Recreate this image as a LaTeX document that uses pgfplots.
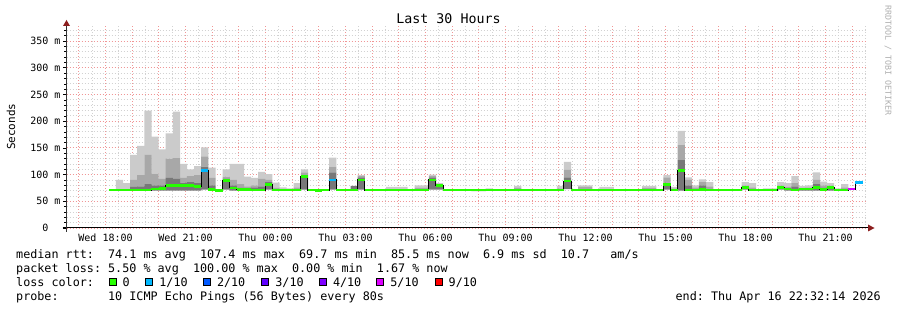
\documentclass[border=0pt]{standalone}
\usepackage{fontspec}
\setmonofont{DejaVu Sans Mono}
\usepackage{pgfplots}
\usepackage{pgfplotstable}
\pgfplotsset{compat=1.18}
\definecolor{smokeL}{RGB}{203,203,203}
\definecolor{smokeM}{RGB}{168,168,168}
\definecolor{smokeD}{RGB}{120,120,120}
\definecolor{loss0}{HTML}{26FF00}
\definecolor{loss1}{HTML}{00B8FF}
\definecolor{loss2}{HTML}{0059FF}
\definecolor{loss3}{HTML}{5E00FF}
\definecolor{loss4}{HTML}{7E00FF}
\definecolor{loss5}{HTML}{DD00FF}
\definecolor{loss9}{HTML}{FF0000}
\definecolor{gridmajor}{RGB}{240,150,150}
\definecolor{gridminor}{RGB}{210,210,210}
\definecolor{arrowred}{RGB}{140,30,30}
\definecolor{rrdgray}{RGB}{175,175,175}

% k = 16-minute column index; lo/d/m/hi = smoke band limits (ms); med = median rtt (ms)
\pgfplotstableread{
k lo d m hi med
0 70 70 70 70 71
1 70 71 73 90 71
2 70 71 73 84 71
3 70 77 90 137 71
4 70 78 99 154 71
5 70 82 137 220 71
6 70 80 102 171 73
7 70 80 92 147 74
8 70 94 130 177 79
9 70 92 131 218 79
10 70 85 94 120 79
11 70 86 97 110 80
12 70 84 99 116 77
13 72 115 134 151 107
14 70 80 94 113 72
15 70 70 70 70 70
16 72 92 96 110 89
17 70 80 90 120 75
18 70 75 82 120 72
19 70 73 78 96 72
20 70 76 80 94 71
21 70 78 92 105 71
22 72 86 90 101 82
23 70 72 75 85 71
24 70 71 72 76 71
25 70 71 72 74 71
26 70 72 76 84 71
27 72 99 104 110 97
28 70 70 70 70 71
29 70 70 70 70 70
30 70 70 70 70 71
31 72 104 115 132 90
32 70 70 70 70 71
33 70 70 70 70 71
34 70 79 79 79 71
35 72 95 98 99 90
36 70 70 70 70 71
37 70 70 70 70 71
38 70 70 70 70 71
39 70 71 73 77 71
40 70 71 73 77 71
41 70 71 73 77 71
42 70 70 70 70 71
43 70 72 75 80 71
44 70 72 75 80 71
45 72 95 98 100 90
46 72 80 82 84 79
47 70 70 70 70 71
48 70 70 70 70 71
49 70 70 70 70 71
50 70 70 70 70 71
51 69 70 71 72 71
52 69 70 71 72 71
53 70 71 72 74 71
54 70 70 70 70 71
55 70 70 70 70 71
56 70 70 70 70 71
57 70 72 75 79 71
58 70 70 70 70 71
59 70 70 70 70 71
60 70 70 70 70 71
61 70 70 70 70 71
62 70 70 70 70 71
63 70 71 74 79 71
64 73 95 109 124 88
65 70 70 70 70 71
66 70 72 77 80 71
67 70 72 77 80 71
68 70 70 70 70 71
69 70 71 73 77 71
70 70 71 73 77 71
71 70 70 70 70 71
72 70 70 70 70 71
73 70 70 70 70 71
74 70 70 70 70 71
75 70 72 75 79 71
76 70 72 75 79 71
77 70 70 70 70 71
78 72 85 95 99 81
79 70 71 74 77 71
80 70 127 155 182 107
81 70 80 90 95 71
82 70 72 76 80 71
83 70 80 86 91 72
84 70 73 78 86 71
85 70 70 70 70 71
86 70 70 70 70 71
87 70 70 70 70 71
88 70 70 70 70 71
89 72 77 80 86 76
90 70 72 76 84 71
91 70 70 70 70 71
92 70 71 72 74 71
93 70 71 72 74 71
94 72 77 80 86 76
95 70 74 77 84 73
96 70 78 84 97 71
97 70 72 75 79 73
98 70 72 76 80 73
99 70 82 90 104 76
100 70 75 80 87 72
101 70 77 80 84 76
102 70 71 72 74 71
103 70 72 76 82 71
104 70 70 70 70 73
105 70 70 70 70 85
106 70 70 70 70 85
}\smoke

\newcommand{\TX}{18.124+0.266667*\thisrow{k}}
\newcommand{\TC}{18.2573+0.266667*\thisrow{k}}
\newcommand{\TKF}{\fontsize{10}{12}\selectfont\ttfamily}
\newcommand{\LGF}{\fontsize{11.75}{14}\selectfont\ttfamily}

\pgfplotsset{
  chartgeom/.style={
    at={(66.5pt,82pt)}, anchor=south west, scale only axis,
    width=800pt, height=202.92pt,
    xmin=16.537, xmax=46.537, ymin=0, ymax=380,
  },
}

\begin{document}
\frenchspacing
\begin{tikzpicture}
\path[use as bounding box] (0,0) rectangle (897pt,310pt);

% background: grid and tick labels
\begin{axis}[chartgeom,
  axis line style={draw=none},
  xtick style={draw=none},
  ytick pos=left, tick align=outside,
  ytick style={black, line width=0.6pt},
  major tick length=3pt, minor tick length=2pt,
  xtick={17,...,46},
  xticklabels={,Wed 18:00,,,Wed 21:00,,,Thu 00:00,,,Thu 03:00,,,Thu 06:00,,,Thu 09:00,,,Thu 12:00,,,Thu 15:00,,,Thu 18:00,,,Thu 21:00,,},
  minor xtick={17.5,18.5,...,46.5},
  ytick={0,50,...,350},
  yticklabels={0\phantom{00},50 m,100 m,150 m,200 m,250 m,300 m,350 m},
  minor ytick={10,20,30,40,60,70,80,90,110,120,130,140,160,170,180,190,210,220,230,240,260,270,280,290,310,320,330,340,360,370},
  grid=both,
  minor grid style={gridminor, line width=0.8pt, dash pattern=on 1pt off 2pt},
  major grid style={gridmajor, line width=0.8pt, dash pattern=on 1pt off 2pt},
  xticklabel style={font=\TKF, anchor=base, inner sep=0pt, yshift=-10.5pt},
  yticklabel style={font=\TKF, anchor=east, inner sep=0pt, xshift=-2.8pt},
]
\end{axis}

% smoke
\begin{axis}[chartgeom, hide axis, ybar stacked, bar width=0.272]
\addplot[draw=none, fill=none] table[x expr=\TC, y=lo] {\smoke};
\addplot[draw=none, fill=smokeD] table[x expr=\TC, y expr=\thisrow{d}-\thisrow{lo}] {\smoke};
\addplot[draw=none, fill=smokeM] table[x expr=\TC, y expr=\thisrow{m}-\thisrow{d}] {\smoke};
\addplot[draw=none, fill=smokeL] table[x expr=\TC, y expr=\thisrow{hi}-\thisrow{m}] {\smoke};
\end{axis}

% median
\begin{axis}[chartgeom, hide axis]
\addplot[const plot mark left, black, line width=1pt] table[x expr=\TX, y=med] {\smoke};
\addplot[jump mark left, loss0, line width=2.8pt] table[x expr=\TX, y=med] {\smoke};
\addplot[jump mark left, loss1, line width=2.8pt] table[row sep=\\, x expr=\TX, y=med] {k med\\ 13 107\\ 14 107\\};
\addplot[jump mark left, loss1, line width=2.8pt] table[row sep=\\, x expr=\TX, y=med] {k med\\ 31 90\\ 32 90\\};
\addplot[jump mark left, loss5, line width=2.8pt] table[row sep=\\, x expr=\TX, y=med] {k med\\ 104 73\\ 105 73\\};
\addplot[jump mark left, loss1, line width=2.8pt] table[row sep=\\, x expr=\TX, y=med] {k med\\ 105 85\\ 106 85\\};
\end{axis}

% axis lines and arrows
\draw[black, line width=1pt] (62.5pt,82pt) -- (868pt,82pt);
\fill[arrowred] (868pt,78.5pt) -- (874.5pt,82pt) -- (868pt,85.5pt) -- cycle;
\draw[black!80, line width=1pt] (66.5pt,78pt) -- (66.5pt,284pt);
\fill[arrowred] (63pt,284pt) -- (66.5pt,290pt) -- (70pt,284pt) -- cycle;

% titles
\node[anchor=base, inner sep=0pt, font=\fontsize{13.3}{16}\selectfont\ttfamily] at (448.5pt,286pt) {Last 30 Hours};
\node[rotate=90, inner sep=0pt, font=\fontsize{11}{13}\selectfont\ttfamily] at (11pt,183.3pt) {Seconds};
\node[rotate=-90, anchor=west, inner sep=0pt, text=rrdgray, font=\fontsize{8.3}{10}\selectfont\ttfamily] at (888pt,305pt) {RRDTOOL / TOBI OETIKER};

% legend text
\node[anchor=base west, inner sep=0pt, font=\LGF] at (16pt,51.7pt) {median rtt:~~74.1 ms avg~~107.4 ms max~~69.7 ms min~~85.5 ms now~~6.9 ms sd~~10.7~~~am/s};
\node[anchor=base west, inner sep=0pt, font=\LGF] at (16pt,37.7pt) {packet loss: 5.50 \% avg~~100.00 \% max~~0.00 \% min~~1.67 \% now};
\node[anchor=base west, inner sep=0pt, font=\LGF] at (16pt,23.7pt) {loss color:};
\node[anchor=base west, inner sep=0pt, font=\LGF] at (16pt,9.7pt) {probe:~~~~~~~10 ICMP Echo Pings (56 Bytes) every 80s};
\node[anchor=base east, inner sep=0pt, font=\LGF] at (881pt,9.7pt) {end: Thu Apr 16 22:32:14 2026};

\foreach \bx/\col in {109/loss0, 145.7/loss1, 203.3/loss2, 261.7/loss3, 319.3/loss4, 376.7/loss5, 435/loss9}{
  \filldraw[fill=\col, draw=black, line width=0.8pt] (\bx pt,24.6pt) rectangle ++(7pt,7.4pt);
}
\foreach \bx/\lab in {109/0, 145.7/1, 203.3/2, 261.7/3, 319.3/4, 376.7/5, 435/9}{
  \node[anchor=base west, inner sep=0pt, font=\LGF] at (\bx pt+13.5pt,23.7pt) {\ifnum\lab=0 0\else\lab/10\fi};
}
\end{tikzpicture}
\end{document}
